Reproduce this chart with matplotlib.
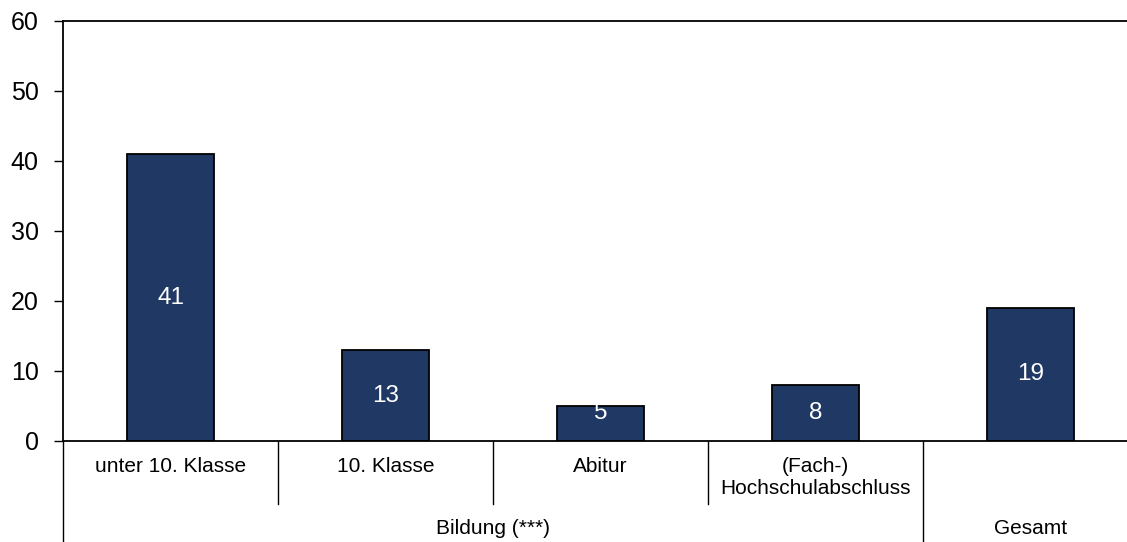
import matplotlib.pyplot as plt
import matplotlib.transforms as mtransforms

plt.rcParams['font.family'] = ['Liberation Sans', 'DejaVu Sans']

# ============ DATA ============
categories = ["unter 10. Klasse", "10. Klasse", "Abitur", "(Fach-)\nHochschulabschluss", ""]
values = [41, 13, 5, 8, 19]
groups = ["Bildung (***)", "Gesamt"]
group_spans = [(0, 3), (4, 4)]  # first and last category index of each group
yticks = [0, 10, 20, 30, 40, 50, 60]

BAR_COLOR = "#203864"

# ============ FIGURE ============
W, H = 1127, 542
fig = plt.figure(figsize=(W / 100, H / 100), dpi=100)
# axes runs a bit past the right edge, like the original
ax = fig.add_axes([63 / W, (H - 441) / H, 1075 / W, 420 / H])

x = range(len(values))
bars = ax.bar(x, values, width=0.405, color=BAR_COLOR, edgecolor="black", linewidth=1.3)

for b, v in zip(bars, values):
    ax.text(b.get_x() + b.get_width() / 2, max(v / 2, 4), str(v),
            ha="center", va="center", color="white", fontsize=17.5)

ax.set_xlim(-0.5, len(values) - 0.5)
ax.set_ylim(0, 60)
ax.set_yticks(yticks)
ax.tick_params(axis="y", labelsize=18, length=6.5, width=1, direction="out", pad=11)
ax.set_xticks([])

for side in ["left", "top", "bottom"]:
    ax.spines[side].set_linewidth(1.3)
ax.spines["right"].set_visible(False)

# ============ CATEGORY AXIS ============
trans = mtransforms.blended_transform_factory(ax.transData, ax.transAxes)
px = 1 / 420  # one pixel in axes units (vertical)
y_inner = -63 * px
y_outer = -101 * px

for i, lab in enumerate(categories):
    for k, line in enumerate(lab.split("\n")):
        ax.text(i, -(26 + 21 * k) * px, line, transform=trans, ha="center",
                va="center", fontsize=15)

# separators between categories inside a group
for g0, g1 in group_spans:
    for k in range(g0, g1):
        ax.plot([k + 0.5, k + 0.5], [0, y_inner], transform=trans,
                color="black", lw=1, clip_on=False)

# separators between groups
for g0, g1 in group_spans:
    ax.plot([g0 - 0.5, g0 - 0.5], [0, y_outer], transform=trans,
            color="black", lw=1, clip_on=False)

for lab, (g0, g1) in zip(groups, group_spans):
    ax.text((g0 + g1) / 2, -88 * px, lab, transform=trans, ha="center",
            va="center", fontsize=15)

fig.savefig("out.png", dpi=100)
